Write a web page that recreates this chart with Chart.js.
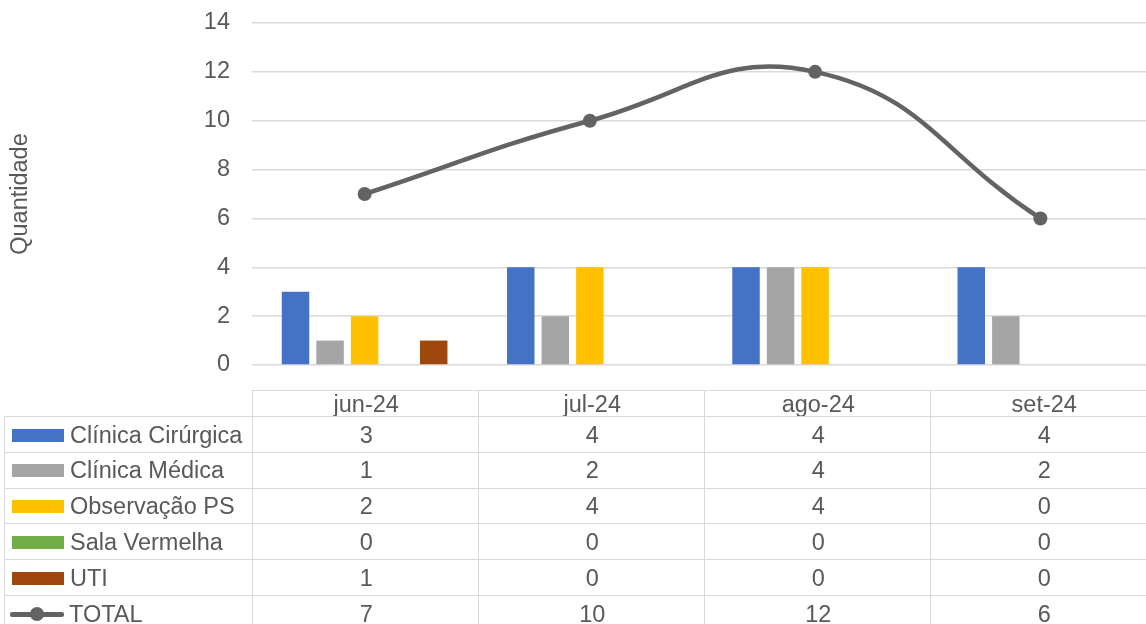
<!DOCTYPE html>
<html>
<head>
<meta charset="utf-8">
<script src="https://cdn.jsdelivr.net/npm/chart.js@4.4.1/dist/chart.umd.min.js"></script>
<style>
  html, body { margin: 0; padding: 0; background: #fff; overflow: hidden; width: 1146px; height: 624px; }
  #wrap { position: absolute; left: 0; top: 0; width: 1160px; height: 390px; }
  #tbl { position: absolute; left: 0; top: 0; width: 1160px; height: 640px; pointer-events: none;
         font-family: "Liberation Sans", Arial, sans-serif; font-size: 23.5px; color: #595959; }
  .cell { position: absolute; box-sizing: border-box; border-left: 1.5px solid #d9d9d9; border-top: 1.5px solid #d9d9d9;
          display: flex; align-items: center; justify-content: center; white-space: nowrap; }
  .lab { justify-content: flex-start; }
  .key { display: inline-block; width: 52px; height: 13px; margin: 0 6px 0 7px; }
  .lkey { position: relative; display: inline-block; width: 54px; height: 16px; margin: 0 5px 0 5px; }
  .lkey i { position: absolute; left: 0; right: 0; top: 6px; height: 4.5px; background: #636363; border-radius: 2px; }
  .lkey b { position: absolute; left: 20px; top: 1px; width: 14px; height: 14px; border-radius: 50%; background: #636363; }
</style>
</head>
<body>
<div id="wrap"><canvas id="myChart"></canvas></div>
<div id="tbl"></div>
<script>
  const months = ['jun-24', 'jul-24', 'ago-24', 'set-24'];
  const clinicaCirurgica = [3, 4, 4, 4];
  const clinicaMedica = [1, 2, 4, 2];
  const observacaoPS = [2, 4, 4, 0];
  const salaVermelha = [0, 0, 0, 0];
  const uti = [1, 0, 0, 0];
  const total = [7, 10, 12, 6];
  const yMax = 14, yStep = 2;

  const grey = '#636363';

  const series = [
    { label: 'Clínica Cirúrgica', data: clinicaCirurgica, color: '#4472C4' },
    { label: 'Clínica Médica', data: clinicaMedica, color: '#A5A5A5' },
    { label: 'Observação PS', data: observacaoPS, color: '#FFC000' },
    { label: 'Sala Vermelha', data: salaVermelha, color: '#70AD47' },
    { label: 'UTI', data: uti, color: '#9E480E' }
  ];

  const barSets = series.map(s => ({
    type: 'bar',
    label: s.label,
    data: s.data,
    backgroundColor: s.color,
    borderWidth: 0,
    categoryPercentage: 0.767,
    barPercentage: 0.795,
    order: 2
  }));

  const config = {
    type: 'bar',
    data: {
      labels: months,
      datasets: [
        {
          type: 'line',
          label: 'TOTAL',
          data: total,
          borderColor: grey,
          backgroundColor: grey,
          borderWidth: 4.5,
          tension: 0.45,
          pointRadius: 7,
          pointBackgroundColor: grey,
          pointBorderWidth: 0,
          order: 1
        },
        ...barSets
      ]
    },
    options: {
      responsive: true,
      maintainAspectRatio: false,
      animation: false,
      layout: { padding: { top: 23, bottom: 25, left: 0, right: 4 } },
      plugins: { legend: { display: false }, tooltip: { enabled: false } },
      scales: {
        x: { display: false },
        y: {
          min: 0,
          max: yMax,
          afterFit: (scale) => { scale.width = 252; scale.paddingTop = 0; scale.paddingBottom = 0; },
          ticks: {
            stepSize: yStep,
            padding: 22,
            color: '#595959',
            font: { family: 'Liberation Sans', size: 23.5 }
          },
          grid: { color: '#d9d9d9', lineWidth: 1.5, drawTicks: false },
          border: { display: false },
          title: {
            display: true,
            text: 'Quantidade',
            color: '#595959',
            font: { family: 'Liberation Sans', size: 23.5 },
            padding: { top: 6, bottom: 0 }
          }
        }
      }
    }
  };

  const myChart = new Chart(document.getElementById('myChart'), config);

  // data table under the plot
  const tbl = document.getElementById('tbl');
  const colX = [4, 252, 478, 704, 930, 1156];
  const headTop = 390, rowTop = 416, rowH = 35.8;

  function cell(x, y, w, h, html, cls) {
    const d = document.createElement('div');
    d.className = 'cell' + (cls ? ' ' + cls : '');
    d.style.left = x + 'px';
    d.style.top = y + 'px';
    d.style.width = w + 'px';
    d.style.height = h + 'px';
    d.innerHTML = html;
    tbl.appendChild(d);
  }

  months.forEach((m, i) => {
    cell(colX[i + 1], headTop, colX[i + 2] - colX[i + 1] + 1.5, rowTop - headTop + 1.5, m);
  });

  const rows = series.map(s => ({ label: s.label, data: s.data, key: '<span class="key" style="background:' + s.color + '"></span>' }));
  rows.push({ label: 'TOTAL', data: total, key: '<span class="lkey"><i></i><b></b></span>' });

  rows.forEach((r, j) => {
    const y = rowTop + j * rowH;
    cell(colX[0], y, colX[1] - colX[0] + 1.5, rowH + 1.5, r.key + r.label, 'lab');
    r.data.forEach((v, i) => {
      cell(colX[i + 1], y, colX[i + 2] - colX[i + 1] + 1.5, rowH + 1.5, String(v));
    });
  });
</script>
</body>
</html>
